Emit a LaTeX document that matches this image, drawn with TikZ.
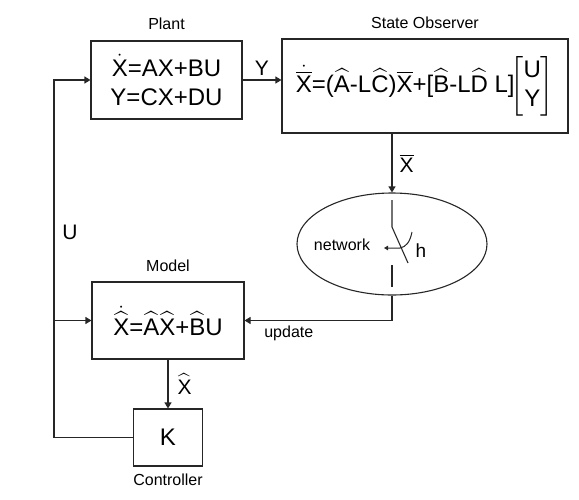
\documentclass[tikz,border=0pt]{standalone}
\usepackage{amsmath}
\usepackage{fontspec}
\setmainfont{Liberation Sans}
\usetikzlibrary{arrows.meta,positioning,shapes.geometric}
\newcommand{\tx}[1]{\text{#1}}
\tikzset{
  blockbox/.style={
    draw=black!85,
    line width=1.1pt,
    fill=white,
    align=center,
    inner sep=0pt,
    font=\fontsize{24}{29}\selectfont
  },
  netellipse/.style={
    ellipse,
    draw=black!85,
    line width=1.1pt,
    inner sep=0pt
  },
  tag/.style={font=\fontsize{16}{18}\selectfont,inner sep=1pt},
  sig/.style={font=\fontsize{21}{24}\selectfont,inner sep=1pt},
  wire/.style={draw=black!85,line width=1.1pt},
  flow/.style={wire,-{Triangle[length=6pt,width=7pt]}}
}
\begin{document}
\begin{tikzpicture}[x=1pt,y=-1pt]
\useasboundingbox (0,0) rectangle (579,499);
% blocks
\node[blockbox,minimum width=151pt,minimum height=78pt] (plant) at (166.5,80)
  {$\dot{\tx{X}}$=AX+BU\\Y=CX+DU};
\node[blockbox,minimum width=286pt,minimum height=94pt] (obs) at (425,86)
  {$\dot{\overline{\tx{X}}}\tx{=(}\widehat{\tx{A}}\tx{-L}\widehat{\tx{C}}\tx{)}\overline{\tx{X}}\tx{+[}\widehat{\tx{B}}\tx{-L}\widehat{\tx{D}}\tx{ L]}\mkern-6mu\begin{bmatrix}\tx{U}\\\tx{Y}\end{bmatrix}$};
\node[netellipse,minimum width=190pt,minimum height=102pt] (net) at (392,244) {};
\node[blockbox,minimum width=152pt,minimum height=77pt] (model) at (168,320.5)
  {$\dot{\widehat{\tx{X}}}\tx{=}\widehat{\tx{A}}\widehat{\tx{X}}\tx{+}\widehat{\tx{B}}\tx{U}$};
\node[blockbox,minimum width=69pt,minimum height=57pt] (ctrl) at (168,437.5) {K};
% titles
\node[tag,above=10pt of plant] (plantname) {Plant};
\node[tag,above=9pt of obs] (obsname) {State Observer};
\node[tag,above=9pt of model] (modelname) {Model};
\node[tag,below=6pt of ctrl] (ctrlname) {Controller};
% network switch
\node[tag] (nettext) at (342,245) {network};
\node[sig,font=\fontsize{19}{22}\selectfont] (hlabel) at (421,251) {h};
\draw[wire] (392,200) -- (392,227) -- (408,263);
\draw[wire] (392,265) -- (392,287);
\draw[wire,line width=1pt,-{Triangle[length=4pt,width=4.5pt]}]
  (412,232) .. controls (410,242) and (406,247) .. (400,248) -- (384,248);
% signals
\draw[flow] (plant.east) -- node[sig,above=3pt] {Y} (plant.east -| obs.west);
\draw[flow] (net.north |- obs.south) -- node[sig,right=6pt] {$\overline{\tx{X}}$} (net.north);
\draw[flow] (net.south) |- node[tag,below=4pt,pos=0.85] {update} (model.east);
\draw[flow] (model.south) -- node[sig,right=8pt] {$\widehat{\tx{X}}$} (ctrl.north);
\coordinate (ubus) at (54,320.5);
\draw[flow] (ctrl.west) -| (ubus) |- (plant.west);
\draw[flow] (ubus) -- (model.west);
\node[sig] (ulabel) at (70,232) {U};
\end{tikzpicture}
\end{document}
